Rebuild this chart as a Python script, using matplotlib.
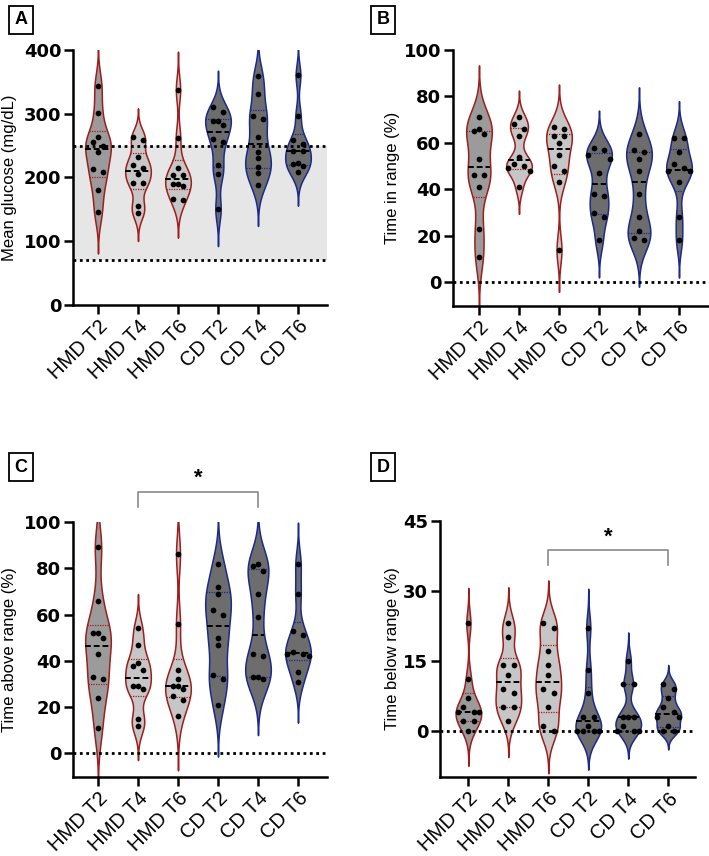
import numpy as np
import matplotlib
matplotlib.use('Agg')
import matplotlib.pyplot as plt

plt.rcParams['font.family'] = ['Liberation Sans', 'DejaVu Sans']

GROUPS = ['HMD T2', 'HMD T4', 'HMD T6', 'CD T2', 'CD T4', 'CD T6']

# mean glucose (mg/dL), one list per group
glucose = [
    [344, 301, 264, 256, 249, 240, 214, 208, 181, 146],
    [264, 259, 232, 220, 215, 205, 191, 191, 156, 145],
    [338, 262, 215, 204, 204, 190, 190, 187, 166, 165],
    [310, 302, 289, 288, 282, 260, 256, 220, 205, 150],
    [359, 331, 297, 292, 264, 240, 230, 217, 207, 188],
    [360, 297, 259, 252, 241, 241, 223, 221, 218, 208],
]
# time in range (%)
tir = [
    [71, 66, 65, 64, 53, 46, 46, 41, 23, 11],
    [71, 68, 66, 63, 54, 51, 50, 49, 48, 41],
    [67, 66, 63, 63, 60, 55, 50, 48, 43, 14],
    [58, 57, 55, 53, 47, 38, 37, 30, 28, 18],
    [64, 57, 56, 53, 48, 38, 28, 22, 19, 18],
    [62, 62, 56, 51, 49, 48, 48, 43, 28, 18],
]
# time above range (%)
tar = [
    [89, 66, 52, 52, 50, 43, 33, 32, 24, 11],
    [54, 47, 39, 38, 36, 29, 29, 28, 15, 12],
    [86, 56, 36, 32, 29, 29, 28, 25, 23, 16],
    [82, 72, 69, 62, 60, 50, 47, 34, 32, 21],
    [82, 81, 79, 69, 59, 43, 42, 33, 33, 32],
    [82, 69, 53, 51, 44, 43, 43, 42, 35, 31],
]
# time below range (%)
tbr = [
    [23, 11, 7, 5, 4, 4, 4, 2, 2, 0],
    [23, 20, 14, 14, 12, 9, 8, 5, 5, 2],
    [23, 22, 17, 14, 12, 9, 8, 5, 1, 0],
    [22, 13, 8, 3, 3, 1, 0, 0, 0, 0],
    [15, 10, 10, 3, 3, 3, 1, 0, 0, 0],
    [10, 9, 7, 5, 4, 3, 3, 1, 0, 0],
]

EDGE = ['#a01d1d'] * 3 + ['#1c2a8e'] * 3
FILL = ['#9b9b9b', '#c6c6c6', '#c6c6c6', '#6d6d6d', '#6d6d6d', '#6d6d6d']

W, H = 709, 856
fig = plt.figure(figsize=(W / 100, H / 100), dpi=100)


def add_ax(x0, x1, ytop, ybot):
    return fig.add_axes([x0 / W, 1 - ybot / H, (x1 - x0) / W, (ybot - ytop) / H])


DOT = 5.4  # dot diameter in px


def swarm_x(vals, i, ax):
    """rows of points: values closer than one dot diameter share a row,
    odd rows get a centre point, even rows sit at +-1, +-2 steps"""
    p0 = ax.transData.transform((0, 0))
    p1 = ax.transData.transform((1, 1))
    sx, sy = p1[0] - p0[0], p1[1] - p0[1]
    order = np.argsort(vals)[::-1]
    v = np.asarray(vals, float)[order]
    clusters, cur = [], [0]
    for k in range(1, len(v)):
        if (v[k - 1] - v[k]) * sy < DOT:
            cur.append(k)
        else:
            clusters.append(cur)
            cur = [k]
    clusters.append(cur)
    xs = np.zeros(len(v))
    for c in clusters:
        n = len(c)
        if n % 2:
            slots = [0] + [s * m for m in range(1, n) for s in (-1, 1)]
        else:
            slots = [s * m for m in range(1, n) for s in (-1, 1)]
        for j, k in enumerate(c):
            xs[k] = i + slots[j] * DOT / sx
    return xs, v


def violin(ax, i, vals):
    v = np.asarray(vals, float)
    bw = 0.38 * v.std(ddof=1)
    grid = np.linspace(v.min() - 3 * bw, v.max() + 3 * bw, 400)
    dens = np.exp(-0.5 * ((grid[:, None] - v[None, :]) / bw) ** 2).sum(1)
    half = 0.32 * dens / dens.max()
    ax.fill_betweenx(grid, i - half, i + half, facecolor=FILL[i],
                     edgecolor=EDGE[i], lw=1.1, zorder=2)
    q1, med, q3 = np.percentile(v, [25, 50, 75], method='weibull')
    for q in (q1, q3):
        w = np.interp(q, grid, half)
        ax.plot([i - w, i + w], [q, q], color=EDGE[i], lw=0.9,
                ls=(0, (1, 1)), zorder=3)
    w = np.interp(med, grid, half)
    ax.plot([i - w, i + w], [med, med], color='black', lw=1.4,
            ls=(0, (3, 1.5)), zorder=3)
    xs, ys = swarm_x(vals, i, ax)
    ax.scatter(xs, ys, s=17, color='black', zorder=5, linewidths=0)


def style(ax, ylim, yticks, ylabel, xlim, labx):
    ax.set_xlim(*xlim)
    ax.set_ylim(*ylim)
    ax.set_yticks(yticks)
    ax.set_xticks(range(len(GROUPS)))
    ax.set_xticklabels(GROUPS, rotation=45, ha='right', rotation_mode='anchor',
                       fontsize=14.5)
    for lab in ax.get_yticklabels():
        lab.set_fontfamily('DejaVu Sans')
        lab.set_fontweight('bold')
        lab.set_fontsize(13)
    for s in ['top', 'right']:
        ax.spines[s].set_visible(False)
    for s in ['left', 'bottom']:
        ax.spines[s].set_linewidth(1.8)
    ax.tick_params(width=1.8, length=6.5, pad=2)
    ax.set_ylabel(ylabel, fontsize=12)
    ax.yaxis.set_label_coords(labx, 0.5)


def refline(ax, y):
    ax.axhline(y, color='black', lw=2, ls=(0, (1, 1.3)), zorder=4)


def bracket(ax, x0, x1, ylo, yhi, ystar):
    ax.plot([x0, x0, x1, x1], [ylo, yhi, yhi, ylo], color='#8a8a8a', lw=1.2,
            clip_on=False, zorder=6)
    ax.text((x0 + x1) / 2, ystar, '*', ha='center', va='center',
            fontsize=16, fontweight='bold', clip_on=False)


# A
axA = add_ax(73, 327, 50, 305)
style(axA, (0, 400), [0, 100, 200, 300, 400], 'Mean glucose (mg/dL)',
      (-0.625, 5.725), -0.222)
axA.axhspan(70, 250, color='#e6e6e6', zorder=0, lw=0)
refline(axA, 70)
refline(axA, 250)
for i, vals in enumerate(glucose):
    violin(axA, i, vals)

# B
axB = add_ax(453, 708, 50, 305.5)
style(axB, (-10, 100), [0, 20, 40, 60, 80, 100], 'Time in range (%)',
      (-0.65, 5.725), -0.208)
refline(axB, 0)
for i, vals in enumerate(tir):
    violin(axB, i, vals)

# C
axC = add_ax(73, 327, 522, 776.6)
style(axC, (-10, 100), [0, 20, 40, 60, 80, 100], 'Time above range (%)',
      (-0.625, 5.725), -0.222)
refline(axC, 0)
for i, vals in enumerate(tar):
    violin(axC, i, vals)
bracket(axC, 1, 4, 106.6, 113.1, 119)

# D
axD = add_ax(440, 695, 520.5, 777.2)
style(axD, (-10, 45), [0, 15, 30, 45], 'Time below range (%)',
      (-0.71, 5.67), -0.157)
refline(axD, 0)
for i, vals in enumerate(tbr):
    violin(axD, i, vals)
bracket(axD, 2, 5, 35.4, 38.6, 41.5)

for letter, x, y in [('A', 21, 20), ('B', 383, 20), ('C', 21, 467), ('D', 383, 467)]:
    fig.text(x / W, 1 - y / H, letter, ha='center', va='center', fontsize=13,
             fontweight='bold',
             bbox=dict(boxstyle='square,pad=0.3', fc='white', ec='black', lw=1.3))

fig.savefig('out.png', dpi=100)
